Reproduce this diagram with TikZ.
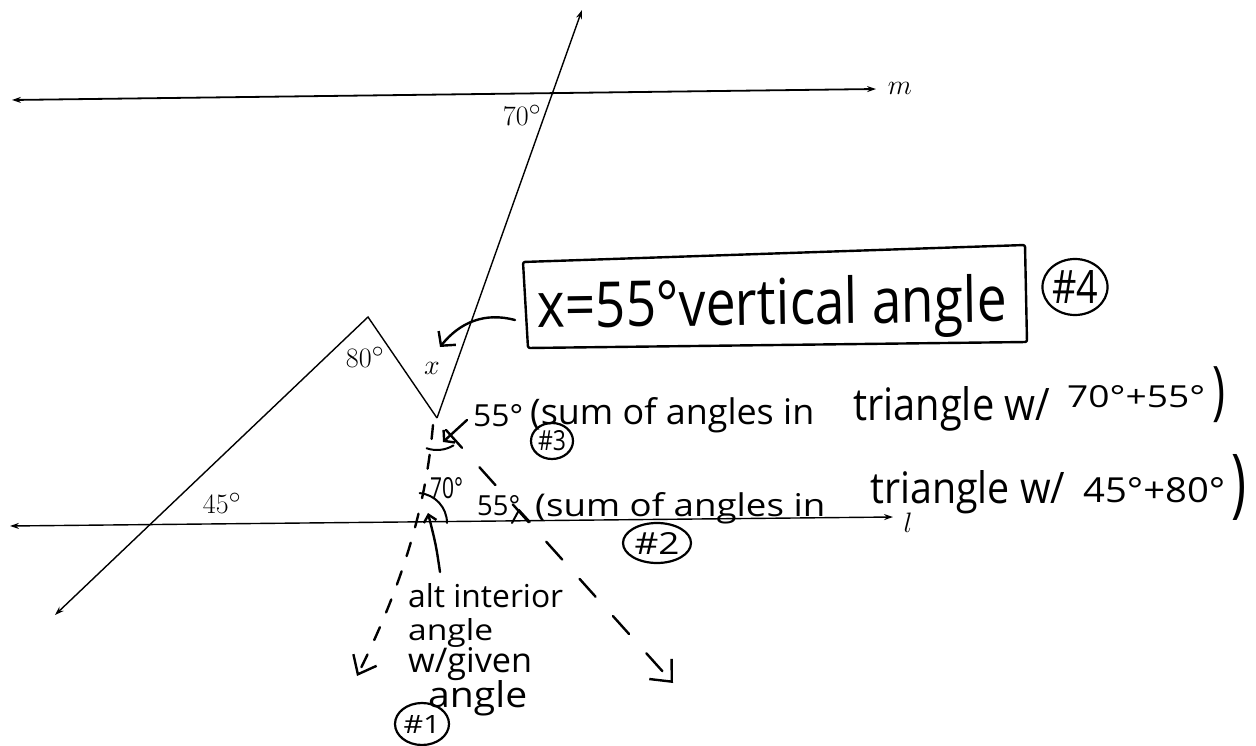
\documentclass[tikz,border=0pt]{standalone}
\usepackage{fontspec}
\usepackage{graphicx}
\usetikzlibrary{arrows.meta,shapes.geometric}
\newfontfamily\hand{Open Sans}
\newcommand{\handtxt}[3]{\resizebox{#1pt}{#2pt}{\hand #3}}
\newcommand{\handtot}[3]{\resizebox*{#1pt}{#2pt}{\hand #3}}
\newcommand{\plbl}[1]{\scalebox{1.13}{$#1$}}
\begin{document}
\begin{tikzpicture}[x=1pt,y=-1pt,
  geo/.style={line width=1.4pt, black},
  pen/.style={line width=2.4pt, line cap=round, line join=round},
  dshA/.style={pen, dash pattern=on 14pt off 16pt},
  dshB/.style={pen, dash pattern=on 24pt off 26pt},
  lbl/.style={font=\fontsize{24.88}{28}\selectfont, inner sep=0pt},
  hw/.style={anchor=base west, inner sep=0pt},
  hwtop/.style={anchor=north west, inner sep=0pt},
  circ/.style={draw, ellipse, line width=2.2pt, inner sep=0pt},
  gtip/.style={-{Stealth[length=9pt,width=6pt]}},
  gtips/.style={{Stealth[length=9pt,width=6pt]}-{Stealth[length=9pt,width=6pt]}}
]
\fill[white] (0,0) rectangle (1256,746);
\useasboundingbox (0,0) rectangle (1256,746);

% ---------- printed figure ----------
\coordinate (mL) at (12,100);  \coordinate (mR) at (876,89);
\coordinate (lL) at (10,526);  \coordinate (lR) at (893,517);
\coordinate (V) at (437,418);  \coordinate (T) at (582,10);
\coordinate (A) at (368,317);  \coordinate (B) at (55,615);

\draw[geo, line width=1.8pt, gtips] (mL) -- (mR);
\draw[geo, gtips] (lL) -- (lR);
\draw[geo, gtip] (V) -- (T);
\draw[geo, gtip] (V) -- (A) -- (B);

\node[lbl] (a70) at (522,115) {\plbl{70^\circ}};
\node[lbl] (a80) at (365,357) {\plbl{80^\circ}};
\node[lbl] (ax)  at (432,368) {\plbl{x}};
\node[lbl] (a45) at (222,503) {\plbl{45^\circ}};
\node[lbl] (lm)  at (900,88) {\plbl{m}};
\node[lbl] (ll)  at (908,523) {\plbl{l}};

% ---------- handwritten notes ----------
% dashed extensions
\coordinate (D1s) at (433,425); \coordinate (D1e) at (357,676);
\draw[dshA, -{Straight Barb[length=16pt,width=26pt]}] (D1s) .. controls (428,480) and (415,560) .. (D1e);
\coordinate (D2s) at (446,430); \coordinate (D2e) at (673,683);
\draw[dshB, -{Straight Barb[length=17pt,width=30pt]}] (D2s) -- (D2e);

% angle arcs
\draw[pen, line width=2pt] (V) ++(59:32) arc[start angle=59, end angle=109, radius=32];
\coordinate (X70) at (417,523);
\draw[pen, line width=2pt] (X70) ++(0:30) arc[start angle=0, end angle=-85, radius=30];

% caret under 55
\coordinate (c1) at (512,523); \coordinate (c2) at (519,510); \coordinate (c3) at (530,522);
\draw[pen, line width=2pt] (c1) -- (c2) -- (c3);

% box
\coordinate (b1) at (523,262); \coordinate (b2) at (1025,245);
\coordinate (b3) at (1027,342); \coordinate (b4) at (528,348);
\draw[pen, rounded corners=2pt] (b1) -- (b2) -- (b3) -- (b4) -- cycle;
\node[hw, rotate=0.8] (bt) at (537,328) {\handtxt{470}{48}{x=55°vertical angle}};

% curved arrow from box to x
\coordinate (bxL) at (515,320); \coordinate (bxT) at (440,347);
\draw[pen, -{Straight Barb[length=10pt,width=22pt]}] (bxL) .. controls (485,312) and (460,322) .. (bxT);

% line #3
\node[hw] (s3a) at (473,426) {\handtxt{50}{22}{55°}};
\node[hw] (s3b) at (530,424) {\handtxt{284}{27}{(sum of angles in}};
\node[hw] (s3c) at (853,420) {\handtxt{197}{34}{triangle w/}};
\node[hw] (s3d) at (1067,407) {\handtxt{138}{22}{70°+55°}};
\node[hwtop] (s3e) at (1212,366) {\handtot{13}{56}{)}};
\coordinate (p3s) at (467,420); \coordinate (p3e) at (443,442);
\draw[pen, -{Straight Barb[length=7pt,width=17pt]}] (p3s) -- (p3e);
\node[circ, minimum width=42pt, minimum height=36pt] (n3) at (552,441) {\handtxt{28}{20}{\#3}};

% line #2
\node[hw] (s2a) at (477,515) {\handtxt{43}{20}{55°}};
\node[hw] (s2b) at (535,516) {\handtxt{290}{24}{(sum of angles in}};
\node[hw] (s2c) at (870,503) {\handtxt{195}{33}{triangle w/}};
\node[hw] (s2d) at (1083,502) {\handtxt{142}{25}{45°+80°}};
\node[hwtop] (s2e) at (1231,454) {\handtot{15}{66}{)}};
\node[circ, minimum width=68pt, minimum height=40pt] (n2) at (657,543) {\handtxt{45}{22}{\#2}};

% 70 degrees and #1 note
\node[hw] (s70) at (430,498) {\handtxt{33}{21}{70°}};
\node[hw] (t1a) at (408,607) {\handtxt{155}{24}{alt interior}};
\node[hw] (t1b) at (408,640) {\handtxt{85}{22}{angle}};
\node[hw] (t1c) at (408,672) {\handtxt{124}{25}{w/given}};
\node[hw] (t1d) at (428,707) {\handtxt{99}{27}{angle}};
\coordinate (p1s) at (440,572); \coordinate (p1e) at (428,513);
\draw[pen, -{Straight Barb[length=7pt,width=13pt]}] (p1s) .. controls (436,545) .. (p1e);
\node[circ, minimum width=54pt, minimum height=42pt] (n1) at (422,724) {\handtxt{37}{18}{\#1}};

% #4
\node[circ, minimum width=60pt, minimum height=56pt] (n4) at (1075,287) {\handtxt{46}{33}{\#4}};
\end{tikzpicture}
\end{document}
